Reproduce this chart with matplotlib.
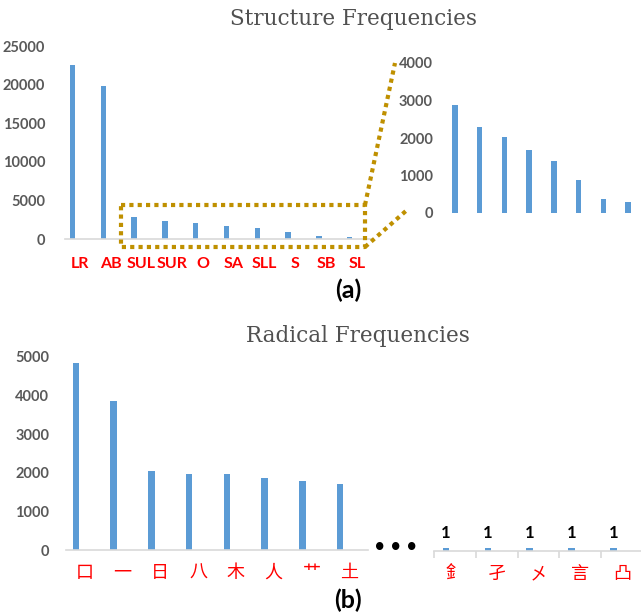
import numpy as np
import matplotlib
matplotlib.use("Agg")
import matplotlib.pyplot as plt
from matplotlib.lines import Line2D

# ---- data ----
struct_labels = ["LR", "AB", "SUL", "SUR", "O", "SA", "SLL", "S", "SB", "SL"]
struct_counts = [22600, 19800, 2890, 2290, 2040, 1690, 1400, 870, 385, 300]
zoom_counts = struct_counts[2:]

radical_top = ["口", "一", "日", "八", "木", "人", "艹", "土"]
radical_top_counts = [4840, 3860, 2050, 1970, 1960, 1860, 1790, 1700]
radical_tail = ["釒", "孑", "㐅", "言", "凸"]
radical_tail_counts = [1, 1, 1, 1, 1]

W, H = 641, 615
BLUE = "#5B9BD5"
GRAY = "#595959"
GOLD = "#BF9000"
AXIS = "#D9D9D9"
CJK = ["Noto Sans CJK SC", "DejaVu Sans"]

plt.rcParams["font.family"] = ["Lato", "DejaVu Sans"]
plt.rcParams["font.weight"] = "bold"

fig = plt.figure(figsize=(W / 100, H / 100), dpi=100)


def box(left, top, right, bottom):
    # pixel box -> figure fraction rect
    return [left / W, 1 - bottom / H, (right - left) / W, (bottom - top) / H]


def clean(ax, baseline=True):
    for s in ["top", "right", "left"]:
        ax.spines[s].set_visible(False)
    ax.spines["bottom"].set_visible(baseline)
    ax.spines["bottom"].set_color(AXIS)
    ax.spines["bottom"].set_linewidth(1.2)
    ax.tick_params(axis="y", length=0, labelsize=10.5, labelcolor=GRAY)
    ax.patch.set_alpha(0)


# ---- (a) structure frequencies ----
ax1 = fig.add_axes(box(64.5, 46, 372.5, 239))
x = np.arange(len(struct_labels))
ax1.bar(x - 0.24, struct_counts, width=0.17, color=BLUE)
ax1.set_xlim(-0.5, 9.5)
ax1.set_ylim(0, 25000)
ax1.set_yticks(range(0, 25001, 5000))
ax1.set_xticks(x)
ax1.set_xticklabels(struct_labels, color="red", fontsize=11.5)
ax1.tick_params(axis="x", length=0, pad=13)
ax1.tick_params(axis="y", pad=14)
clean(ax1)

ax2 = fig.add_axes(box(440, 63, 641, 213))
xz = np.arange(len(zoom_counts))
ax2.bar(xz, zoom_counts, width=0.22, color=BLUE)
ax2.set_xlim(-0.61, 7.53)
ax2.set_ylim(0, 4000)
ax2.set_yticks(range(0, 4001, 1000))
ax2.set_xticks([])
ax2.tick_params(axis="y", pad=5)
clean(ax2, baseline=False)

fig.text(353 / W, 1 - 19 / H, "Structure Frequencies", ha="center", va="center",
         fontsize=15.5, color="#505050", family=["DejaVu Serif"], fontweight="normal")
fig.text(348 / W, 1 - 290 / H, "(a)", ha="center", va="center", fontsize=18)

# dotted zoom box and connector lines
dot = dict(color=GOLD, linewidth=3, linestyle=(0, (1, 1)), transform=fig.transFigure)
rx0, rx1, ry0, ry1 = 121, 365, 205, 247
for xs, ys in [([rx0, rx1, rx1, rx0, rx0], [ry0, ry0, ry1, ry1, ry0]),
               ([rx1, 395], [ry0, 63]),
               ([rx1, 407], [ry1, 210])]:
    fig.add_artist(Line2D([v / W for v in xs], [1 - v / H for v in ys], **dot))

# ---- (b) radical frequencies ----
ax3 = fig.add_axes(box(66, 357, 368, 550))
xr = np.arange(len(radical_top))
ax3.bar(xr - 0.24, radical_top_counts, width=0.17, color=BLUE)
ax3.set_xlim(-0.5, 7.5)
ax3.set_ylim(0, 5000)
ax3.set_yticks(range(0, 5001, 1000))
ax3.set_xticks(xr)
ax3.set_xticklabels(radical_top, color="red", fontsize=13, family=CJK, fontweight="normal")
ax3.tick_params(axis="x", length=0, pad=10)
ax3.tick_params(axis="y", pad=12)
clean(ax3)

ax4 = fig.add_axes(box(434, 357, 643, 551))
xt = np.arange(len(radical_tail))
bars = ax4.bar(xt - 0.21, radical_tail_counts, width=0.16, color=BLUE)
ax4.set_xlim(-0.5, 4.5)
ax4.set_ylim(0, 65)
ax4.set_yticks([])
ax4.set_xticks(xt)
ax4.set_xticklabels(radical_tail, color="red", fontsize=13, family=CJK, fontweight="normal")
ax4.set_xticks(np.arange(-0.5, 4.0, 1.0), minor=True)
ax4.tick_params(axis="x", which="major", length=0, pad=10)
ax4.tick_params(axis="x", which="minor", length=5, color=AXIS, width=1.2)
clean(ax4)
ax4.bar_label(bars, padding=5, fontsize=12)

# ellipsis between the two radical groups
for px in (380, 396, 412):
    fig.text(px / W, 1 - 548 / H, "•", ha="center", va="center", fontsize=15,
             family=["DejaVu Sans"])
fig.text(358 / W, 1 - 336 / H, "Radical Frequencies", ha="center", va="center",
         fontsize=15.5, color="#505050", family=["DejaVu Serif"], fontweight="normal")
fig.text(348 / W, 1 - 600 / H, "(b)", ha="center", va="center", fontsize=18)

fig.savefig("out.png", dpi=100)
